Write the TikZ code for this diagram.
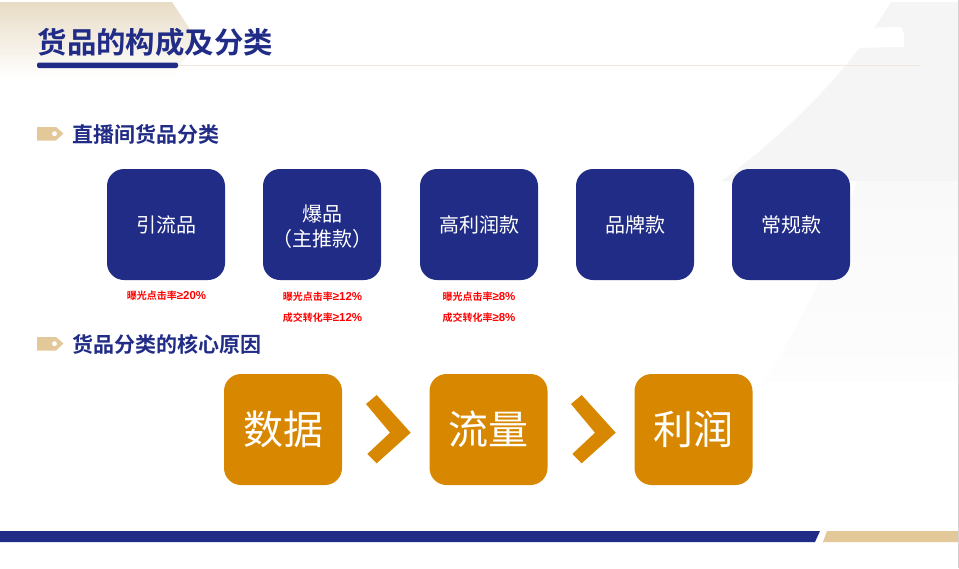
\documentclass[tikz,border=0pt]{standalone}
\usepackage{fontspec}
\setmainfont{Noto Sans CJK SC}
\newfontfamily\cjkb{Noto Sans CJK SC Bold}
\newfontfamily\cjkr{Noto Sans CJK SC}
\newfontfamily\latb{Liberation Sans Bold}
\definecolor{navy}{HTML}{212C87}
\definecolor{tan}{HTML}{E3C89A}
\definecolor{amber}{HTML}{D88800}
\definecolor{softtan}{HTML}{E8DCC6}
\definecolor{softgrey}{HTML}{F5F5F5}
\definecolor{softgreyb}{HTML}{F9F9F9}
\definecolor{softgreyc}{HTML}{FDFDFD}
\definecolor{hair}{HTML}{EFE8DC}
\newcommand{\pct}[1]{{\latb\fontsize{11.5}{12}\selectfont ≥#1\%}}
\tikzset{
  navybox/.style={fill=navy,rounded corners=17pt,minimum width=118pt,minimum height=111pt,inner sep=0pt,text=white,align=center,font=\cjkr\fontsize{20}{25}\selectfont},
  boxlabel/.style={inner sep=0pt,text=white,align=center,font=\cjkr\fontsize{20}{25}\selectfont,yshift=-2.5pt},
  amberbox/.style={fill=amber,rounded corners=17pt,minimum width=118pt,minimum height=111pt,inner sep=0pt,text=white,font=\cjkr\fontsize{40}{44}\selectfont},
  sechead/.style={anchor=west,inner sep=0pt,text=navy,font=\cjkb\fontsize{21}{25}\selectfont},
  redtext/.style={inner sep=0pt,text=red,font=\cjkb\fontsize{10}{12}\selectfont},
  tagicon/.style={fill=tan,draw=none},
  chev/.style={fill=amber,draw=none}
}
\begin{document}
\begin{tikzpicture}[x=1pt,y=-1pt]
\useasboundingbox (0,0) rectangle (959,568);
\fill[white] (0,0) rectangle (959,568);
% corner backgrounds
\shade[top color=softtan,bottom color=white,draw=none] (0,2) -- (172,2) -- (197,40) -- (172,78) -- (0,78) -- cycle;
\fill[softgrey] (891,2) .. controls (850,70) and (790,130) .. (722,181) -- (958,181) -- (958,2) -- cycle;
\shade[top color=softgreyb,bottom color=softgreyc,draw=none] (857,181) .. controls (835,250) and (800,330) .. (763,381) -- (958,381) -- (958,181) -- cycle;
\fill[white] (855,28) -- (900,27) .. controls (904,27) and (906,44) .. (903,47) -- (855,48) -- cycle;
\fill[black!18] (958,0) rectangle (959,568);
% title
\draw[hair,line width=0.7pt] (178,65.5) -- (920,65.5);
\node[anchor=west,inner sep=0pt,text=navy,font=\cjkb\fontsize{29.4}{34}\selectfont] (title) at (37.5,42) {货品的构成及分类};
\fill[navy,rounded corners=2pt] (37,62.5) rectangle (178,68);
% section heads
\fill[tagicon,even odd rule] (37,127) -- (56,127) -- (63.5,133.5) -- (56,140.5) -- (37,140.5) -- cycle (54.5,133.7) circle (2.6);
\node[sechead] (sec1) at (72,134.5) {直播间货品分类};
\fill[tagicon,even odd rule] (37,337) -- (56,337) -- (63.5,343.5) -- (56,350.5) -- (37,350.5) -- cycle (54.5,343.7) circle (2.6);
\node[sechead] (sec2) at (72,344.5) {货品分类的核心原因};
% category boxes
\node[navybox] (b1) at (166,224.5) {引流品};
\node[navybox,label={[boxlabel]center:爆品\\（主推款）}] (b2) at (322,224.5) {};
\node[navybox] (b3) at (479,224.5) {高利润款};
\node[navybox] (b4) at (635,224.5) {品牌款};
\node[navybox] (b5) at (791,224.5) {常规款};
% red notes
\node[redtext] (r1) at (166.5,295.5) {曝光点击率\pct{20}};
\node[redtext] (r2) at (322.5,296.5) {曝光点击率\pct{12}};
\node[redtext] (r3) at (322.5,317.5) {成交转化率\pct{12}};
\node[redtext] (r4) at (479,296.5) {曝光点击率\pct{8}};
\node[redtext] (r5) at (479,317.5) {成交转化率\pct{8}};
% reason boxes
\node[amberbox] (a1) at (283,429.5) {数据};
\node[amberbox] (a2) at (488.5,429.5) {流量};
\node[amberbox] (a3) at (693.5,429.5) {利润};
\fill[chev] (366,404) -- (376.7,395) -- (410.7,432.7) -- (376.7,463.3) -- (367.3,454) -- (390,432.7) -- cycle;
\fill[chev] (571,404) -- (581.7,395) -- (615.7,432.7) -- (581.7,463.3) -- (572.3,454) -- (595,432.7) -- cycle;
% bottom band
\fill[navy] (0,531) -- (820,531) -- (815,542) -- (0,542) -- cycle;
\fill[tan] (827,531) -- (958,531) -- (958,542) -- (823,542) -- cycle;
\end{tikzpicture}
\end{document}
